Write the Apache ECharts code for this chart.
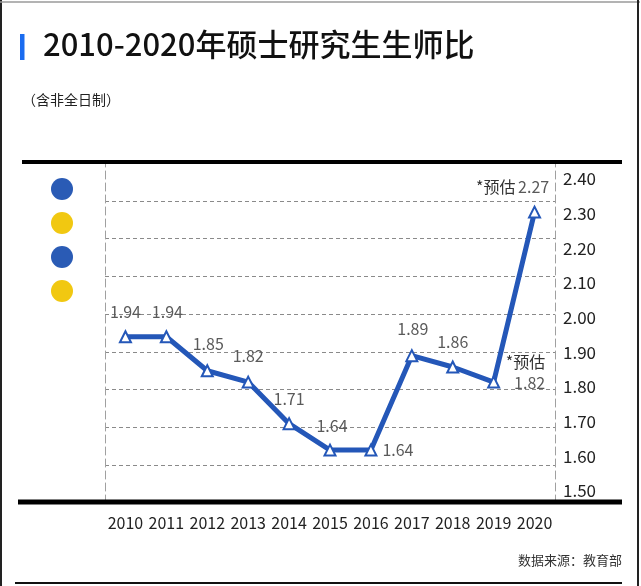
<!DOCTYPE html>
<html>
<head>
<meta charset="utf-8">
<script src="https://cdn.jsdelivr.net/npm/echarts@6/dist/echarts.min.js"></script>
<style>
html,body{margin:0;padding:0;background:#fff;}
#c{width:641px;height:586px;}
</style>
</head>
<body>
<div id="c"></div>
<script>
var years = ['2010','2011','2012','2013','2014','2015','2016','2017','2018','2019','2020'];
var ratios = [1.94, 1.94, 1.85, 1.82, 1.71, 1.64, 1.64, 1.89, 1.86, 1.82, 2.27];
var yTicks = ['1.50','1.60','1.70','1.80','1.90','2.00','2.10','2.20','2.30','2.40'];
var estimateNote = '*预估';

var FONT = "'Noto Sans CJK SC','Noto Sans',sans-serif";
var BLUE = '#2457b8';

var chart = echarts.init(document.getElementById('c'), null, {renderer:'canvas'});

var labelCfg = [
  {position:'top', offset:[0,-3]},
  {position:'top', offset:[1,-3]},
  {position:'top', offset:[1,-5]},
  {position:'top', offset:[0,-4]},
  {position:'top', offset:[0,-3]},
  {position:'top', offset:[2,-2]},
  {position:'right', offset:[0,0]},
  {position:'top', offset:[1,-5]},
  {position:'top', offset:[0,-3]},
  {position:'right', align:'right', offset:[40,-10], est:'below'},
  {position:'top', offset:[-22,-3], est:'inline'}
];

var seriesData = ratios.map(function(v, i){
  var c = labelCfg[i];
  var lbl = {show:true, position:c.position, offset:c.offset};
  if (c.align) lbl.align = c.align;
  if (c.est === 'below') {
    lbl.formatter = '{e|' + estimateNote + '}\n{n|' + v.toFixed(2) + '}';
  } else if (c.est === 'inline') {
    lbl.formatter = '{e|' + estimateNote + '} {n|' + v.toFixed(2) + '}';
  } else {
    lbl.formatter = '{n|' + v.toFixed(2) + '}';
  }
  return {value:v, label:lbl};
});

var option = {
  backgroundColor:'#fff',
  animation:false,
  grid:[
    {left:105, right:86, top:163, bottom:83},
    {left:554, width:1, top:179, height:312}
  ],
  xAxis:[
    {type:'category', data:years, gridIndex:0, boundaryGap:true,
     axisLine:{show:false}, axisTick:{show:false},
     axisLabel:{color:'#222', fontSize:16, fontFamily:FONT, margin:12, interval:0, hideOverlap:false}},
    {type:'value', gridIndex:1, show:false, min:0, max:1}
  ],
  yAxis:[
    {type:'value', gridIndex:0, min:1.5, max:2.4, interval:0.1, position:'left',
     axisLine:{show:true, lineStyle:{color:'#a0a0a0', width:1, type:[8,4]}},
     axisTick:{show:false}, axisLabel:{show:false},
     splitLine:{show:true, lineStyle:{color:'#8a8a8a', width:1, type:[4,3]}}},
    {type:'value', gridIndex:0, min:1.5, max:2.4, interval:0.1, position:'right',
     axisLine:{show:true, lineStyle:{color:'#a0a0a0', width:1, type:[8,4]}},
     axisTick:{show:false}, axisLabel:{show:false}, splitLine:{show:false}},
    {type:'value', gridIndex:1, min:1.5, max:2.4, interval:0.1, position:'right',
     axisLine:{show:false}, axisTick:{show:false}, splitLine:{show:false},
     axisLabel:{show:true, color:'#222', fontSize:17, fontFamily:FONT, margin:8,
       formatter:function(v){ var idx = Math.round((v-1.5)*10); return yTicks[idx] || ''; }}}
  ],
  series:[{
    type:'line', xAxisIndex:0, yAxisIndex:0,
    data:seriesData,
    lineStyle:{color:BLUE, width:5},
    itemStyle:{color:'#fff', borderColor:BLUE, borderWidth:2},
    symbol:'triangle', symbolSize:11, showAllSymbol:true,
    z:5,
    label:{
      fontFamily:FONT,
      rich:{
        n:{color:'#5a5a5a', fontSize:16, fontFamily:FONT, lineHeight:21},
        e:{color:'#333', fontSize:16, fontFamily:FONT, lineHeight:21}
      }
    }
  }],
  graphic:[
    {type:'line', shape:{x1:1, y1:0, x2:1, y2:586}, style:{stroke:'#222', lineWidth:2}},
    {type:'line', shape:{x1:0, y1:2, x2:640, y2:2}, style:{stroke:'#9a9a9a', lineWidth:1.5}},
    {type:'line', shape:{x1:638, y1:0, x2:638, y2:586}, style:{stroke:'#222', lineWidth:2}},
    {type:'line', shape:{x1:15, y1:583, x2:622, y2:583}, style:{stroke:'#111', lineWidth:2}},
    {type:'rect', shape:{x:20, y:34, width:4.5, height:26}, style:{fill:'#1a6cf0'}},
    {type:'text', left:43, top:29, style:{text:'2010-2020年硕士研究生生师比', font:'500 31px ' + FONT, fill:'#111'}},
    {type:'text', left:22, top:93, style:{text:'（含非全日制）', font:'14px ' + FONT, fill:'#222'}},
    {type:'line', shape:{x1:22, y1:162, x2:622, y2:162}, style:{stroke:'#000', lineWidth:4}, z:10},
    {type:'line', shape:{x1:18, y1:502, x2:622, y2:502}, style:{stroke:'#000', lineWidth:5}, z:10},
    {type:'circle', shape:{cx:62, cy:189, r:11}, style:{fill:'#2a5bb5'}},
    {type:'circle', shape:{cx:62, cy:223, r:11}, style:{fill:'#f1c811'}},
    {type:'circle', shape:{cx:62, cy:257, r:11}, style:{fill:'#2a5bb5'}},
    {type:'circle', shape:{cx:62, cy:291, r:11}, style:{fill:'#f1c811'}},
    {type:'text', right:19, top:554, style:{text:'数据来源：教育部', font:'13px ' + FONT, fill:'#333', textAlign:'right'}}
  ]
};
chart.setOption(option);
</script>
</body>
</html>
